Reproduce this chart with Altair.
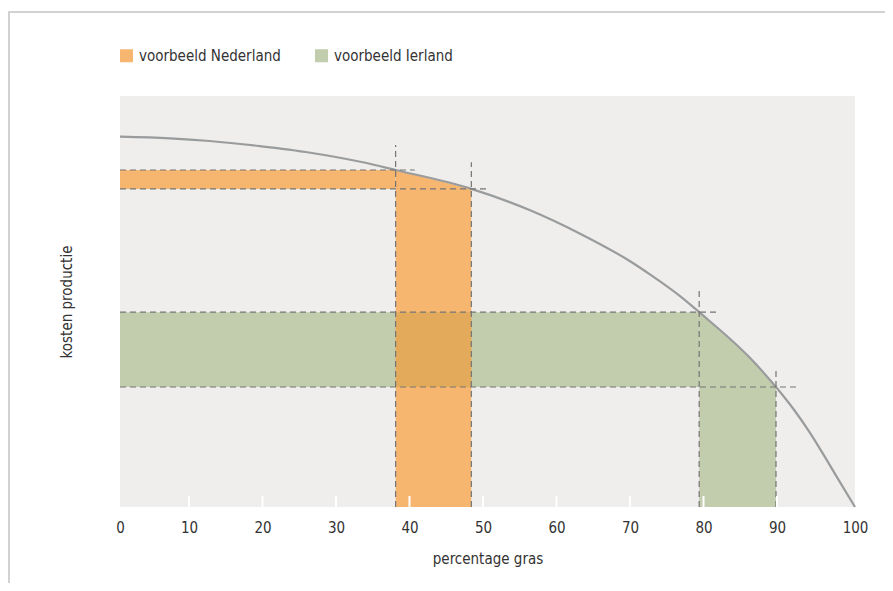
import altair as alt
import pandas as pd

# ---- data ----
curve_x = [0, 6.8, 12.2, 19, 25.9, 32.7, 37.5, 47.8, 55.8, 62.6, 69.4, 72.1, 76.2, 78.8,
           85.7, 89.25, 91.6, 93.9, 97.5, 100]
curve_y = [90.1, 89.7, 89.05, 87.8, 86.2, 84.0, 82.0, 77.4, 72.2, 66.5, 59.8, 56.6, 51.3, 47.4,
           36.3, 29.2, 23.9, 18.0, 7.4, 0]

lands = ["voorbeeld Nederland", "voorbeeld Ierland"]
band_x0 = [37.5, 78.8]   # left edge of vertical band (percentage gras)
band_x1 = [47.8, 89.25]  # right edge of vertical band
band_y0 = [77.4, 29.2]   # lower edge of horizontal band (kosten)
band_y1 = [82.0, 47.4]   # upper edge of horizontal band

# dashed guide lines
guide_v_x = [37.5, 47.8, 78.8, 89.25]
guide_v_top = [88.1, 83.9, 52.6, 33.1]
guide_h_y = [82.0, 77.4, 47.4, 29.2]
guide_h_end = [40.1, 50.1, 81.6, 92.5]

x_ticks = [0, 10, 20, 30, 40, 50, 60, 70, 80, 90, 100]
inner_ticks = [10, 20, 30, 40, 50, 60, 70, 80, 90]

ORANGE = "#F6B670"
GREEN = "#C2CDAD"
OVERLAP = "#E2AA5A"
CURVE = "#9A9B9D"
DASH = "#747474"
TEXT = "#333333"
FONT = "Liberation Sans Narrow, DejaVu Sans Condensed, Roboto Condensed, Roboto, sans-serif"

W, H = 735, 411

curve_df = pd.DataFrame({"x": curve_x, "y": curve_y})

hrect_df = pd.DataFrame({
    "land": lands,
    "x0": [0, 0],
    "x1": band_x0,
    "y0": band_y0,
    "y1": band_y1,
})

area_rows = []
for land, a, b in zip(lands, band_x0, band_x1):
    for xv, yv in zip(curve_x, curve_y):
        if a <= xv <= b:
            area_rows.append({"land": land, "x": xv, "y": yv})
area_df = pd.DataFrame(area_rows)

overlap_df = pd.DataFrame({
    "x0": [band_x0[0]], "x1": [band_x1[0]],
    "y0": [band_y0[1]], "y1": [band_y1[1]],
})

gv_df = pd.DataFrame({"x": guide_v_x, "y0": [0] * 4, "y1": guide_v_top})
gh_df = pd.DataFrame({"y": guide_h_y, "x0": [0] * 4, "x1": guide_h_end})
tick_df = pd.DataFrame({"x": inner_ticks})

xscale = alt.Scale(domain=[0, 100], nice=False, zero=False)
yscale = alt.Scale(domain=[0, 100], nice=False)
color = alt.Color(
    "land:N",
    scale=alt.Scale(domain=lands, range=[ORANGE, GREEN]),
    legend=alt.Legend(
        title=None, orient="none", legendX=-1, legendY=-48, direction="horizontal",
        symbolType="square", symbolSize=169, symbolStrokeWidth=0, symbolOpacity=1,
        labelFontSize=15, labelFont=FONT, labelColor=TEXT, labelOffset=5,
        columnPadding=33,
    ),
)

xaxis = alt.X(
    "x0:Q", scale=xscale,
    axis=alt.Axis(
        title="percentage gras", values=x_ticks, ticks=False, domain=False, grid=False,
        labelFontSize=15, labelFont=FONT, labelColor=TEXT, labelPadding=13,
        labelFlush=False,
        labelOffset={"condition": {"test": "datum.value == 0 || datum.value == 100", "value": 0},
                     "value": -4.5},
        titleFontSize=15, titleFont=FONT, titleColor=TEXT, titleFontWeight="normal",
        titlePadding=16,
    ),
)
yaxis = alt.Y(
    "y0:Q", scale=yscale,
    axis=alt.Axis(
        title="kosten productie", labels=False, ticks=False, domain=False, grid=False,
        titleFontSize=15, titleFont=FONT, titleColor=TEXT, titleFontWeight="normal",
        titlePadding=46,
    ),
)

hrect = alt.Chart(hrect_df).mark_rect().encode(
    x=xaxis, x2="x1:Q", y=yaxis, y2="y1:Q", color=color
)
varea = alt.Chart(area_df).mark_area(opacity=1, interpolate="monotone").encode(
    x=alt.X("x:Q", scale=xscale), y=alt.Y("y:Q", scale=yscale, stack=None),
    detail="land:N", color=color,
)
overlap = alt.Chart(overlap_df).mark_rect(color=OVERLAP).encode(
    x=alt.X("x0:Q", scale=xscale), x2="x1:Q",
    y=alt.Y("y0:Q", scale=yscale), y2="y1:Q",
)
curve = alt.Chart(curve_df).mark_line(color=CURVE, strokeWidth=2.2, interpolate="monotone").encode(
    x=alt.X("x:Q", scale=xscale), y=alt.Y("y:Q", scale=yscale)
)
gv = alt.Chart(gv_df).mark_rule(color=DASH, strokeWidth=1.2, strokeDash=[6, 4]).encode(
    x=alt.X("x:Q", scale=xscale), y=alt.Y("y0:Q", scale=yscale), y2="y1:Q"
)
gh = alt.Chart(gh_df).mark_rule(color=DASH, strokeWidth=1.2, strokeDash=[6, 4]).encode(
    y=alt.Y("y:Q", scale=yscale), x=alt.X("x0:Q", scale=xscale), x2="x1:Q"
)
ticks = alt.Chart(tick_df).mark_rule(color="white", strokeWidth=2, xOffset=-4.5).encode(
    x=alt.X("x:Q", scale=xscale), y=alt.value(H), y2=alt.value(H - 11)
)

frame_df = pd.DataFrame({"a": [0]})
frame_left = alt.Chart(frame_df).mark_rule(color="#D2D2D2", strokeWidth=2).encode(
    x=alt.value(-111), y=alt.value(-84), y2=alt.value(H + 76)
)
frame_top = alt.Chart(frame_df).mark_rule(color="#D2D2D2", strokeWidth=2).encode(
    y=alt.value(-84), x=alt.value(-112), x2=alt.value(W + 30)
)

chart = alt.layer(
    hrect, varea, overlap, curve, gv, gh, ticks, frame_left, frame_top
).properties(
    width=W, height=H,
    autosize=alt.AutoSizeParams(type="none"),
    padding={"left": 112, "top": 88, "right": 30, "bottom": 76},
).configure(
    background="white"
).configure_view(
    stroke=None, fill="#EFEEEC"
)

chart.save("out.html", embed_options={"renderer": "svg", "actions": False})
